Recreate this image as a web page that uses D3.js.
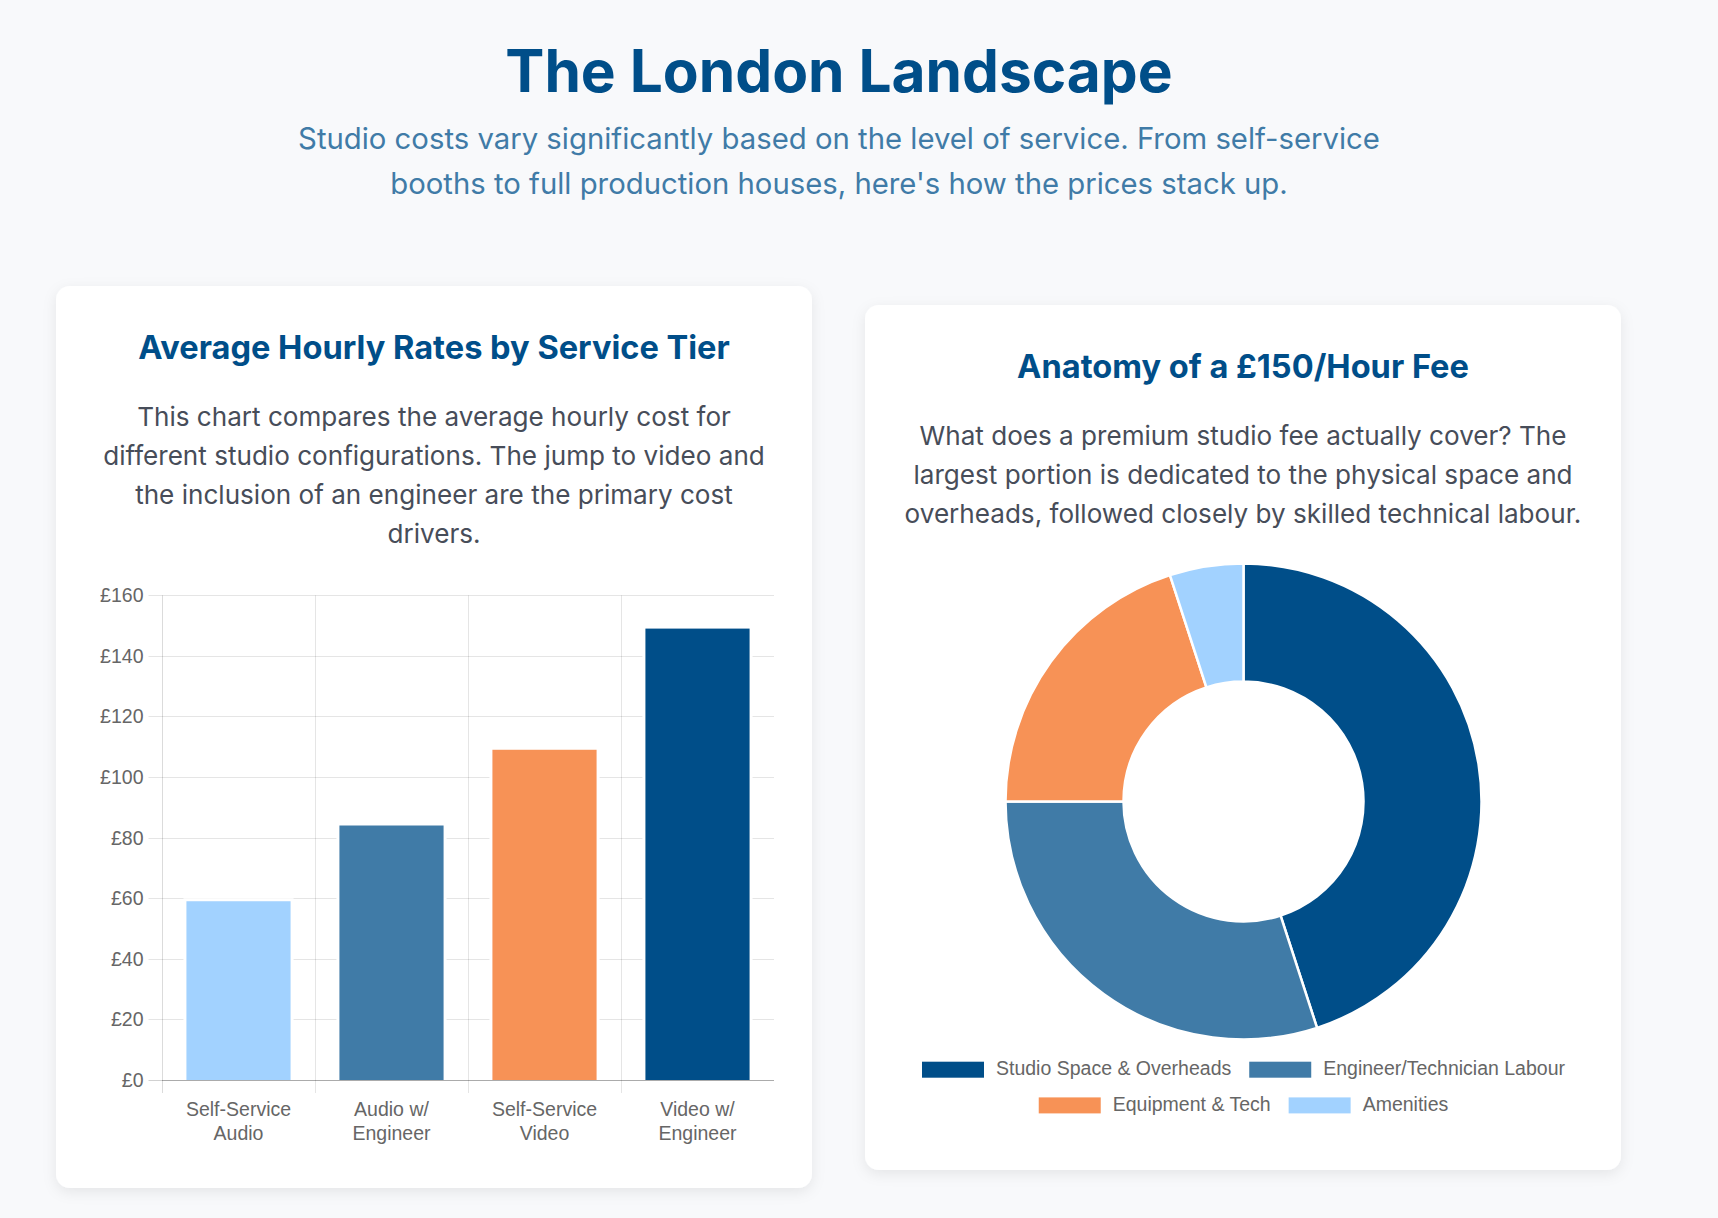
<!DOCTYPE html>
<html>
<head>
<meta charset="utf-8">
<script src="https://cdn.jsdelivr.net/npm/d3@7"></script>
<style>
  html, body { margin: 0; padding: 0; background: #f8f9fb; }
  svg { display: block; }
</style>
</head>
<body>
<div id="page"></div>
<script>
// bar chart data
const tierLabels = [["Self-Service", "Audio"], ["Audio w/", "Engineer"], ["Self-Service", "Video"], ["Video w/", "Engineer"]];
const hourlyRates = [60, 85, 110, 150];
const tierColors = ["#a2d2ff", "#407ba7", "#f79256", "#004e89"];
const rateTicks = [0, 20, 40, 60, 80, 100, 120, 140, 160];

// doughnut data
const feeParts = ["Studio Space & Overheads", "Engineer/Technician Labour", "Equipment & Tech", "Amenities"];
const feeShares = [45, 30, 20, 5];
const feeColors = ["#004e89", "#407ba7", "#f79256", "#a2d2ff"];

const headFont = "Inter, 'Noto Sans', sans-serif";
const chartFont = "'Liberation Sans', Arial, Helvetica, sans-serif";

const svg = d3.select("#page").append("svg")
    .attr("width", 1718)
    .attr("height", 1218);

const defs = svg.append("defs");
const shadow = defs.append("filter")
    .attr("id", "shadow")
    .attr("x", "-10%").attr("y", "-10%")
    .attr("width", "120%").attr("height", "120%");
shadow.append("feDropShadow")
    .attr("dx", 0).attr("dy", 4)
    .attr("stdDeviation", 7)
    .attr("flood-color", "#000")
    .attr("flood-opacity", 0.08);

// header
svg.append("text")
    .attr("x", 839).attr("y", 91.7)
    .attr("text-anchor", "middle")
    .attr("font-family", headFont)
    .attr("font-weight", 700)
    .attr("font-size", 58.6)
    .attr("fill", "#004e89")
    .text("The London Landscape");

const subLines = ["Studio costs vary significantly based on the level of service. From self-service",
                  "booths to full production houses, here's how the prices stack up."];
subLines.forEach((t, i) => {
  svg.append("text")
      .attr("x", 839).attr("y", 149 + i * 45)
      .attr("text-anchor", "middle")
      .attr("font-family", headFont)
      .attr("font-size", 29.3)
      .attr("fill", "#407ba7")
      .text(t);
});

function drawCard(x, y, w, h, title, lines) {
  const g = svg.append("g");
  g.append("rect")
      .attr("x", x).attr("y", y)
      .attr("width", w).attr("height", h)
      .attr("rx", 14)
      .attr("fill", "#fff")
      .attr("filter", "url(#shadow)");
  g.append("text")
      .attr("x", x + w / 2).attr("y", y + 73)
      .attr("text-anchor", "middle")
      .attr("font-family", headFont)
      .attr("font-weight", 700)
      .attr("font-size", 32.6)
      .attr("fill", "#004e89")
      .text(title);
  lines.forEach((t, i) => {
    g.append("text")
        .attr("x", x + w / 2).attr("y", y + 140 + i * 39)
        .attr("text-anchor", "middle")
        .attr("font-family", headFont)
        .attr("font-size", 26.1)
        .attr("fill", "#474d59")
        .text(t);
  });
}

drawCard(56, 286, 756, 902, "Average Hourly Rates by Service Tier", [
  "This chart compares the average hourly cost for",
  "different studio configurations. The jump to video and",
  "the inclusion of an engineer are the primary cost",
  "drivers."
]);

drawCard(865, 305, 756, 865, "Anatomy of a \u00a3150/Hour Fee", [
  "What does a premium studio fee actually cover? The",
  "largest portion is dedicated to the physical space and",
  "overheads, followed closely by skilled technical labour."
]);

// ---- bar chart ----
const plot = {left: 162, right: 774, top: 595.3, bottom: 1080};
const grid = "rgba(0,0,0,0.1)";

const xScale = d3.scaleBand()
    .domain(d3.range(hourlyRates.length))
    .range([plot.left, plot.right])
    .padding(0);

const yScale = d3.scaleLinear()
    .domain([0, 160])
    .range([plot.bottom, plot.top]);

const bars = svg.append("g");

// horizontal grid + y labels
bars.selectAll(".hgrid")
  .data(rateTicks)
  .join("line")
    .attr("x1", plot.left - 13.5).attr("x2", plot.right)
    .attr("y1", d => Math.round(yScale(d)) + 0.5)
    .attr("y2", d => Math.round(yScale(d)) + 0.5)
    .attr("stroke", d => d === 0 ? "rgba(0,0,0,0.18)" : grid)
    .attr("stroke-width", 1);

bars.selectAll(".ylab")
  .data(rateTicks)
  .join("text")
    .attr("x", plot.left - 18.5)
    .attr("y", d => yScale(d))
    .attr("dy", "0.36em")
    .attr("text-anchor", "end")
    .attr("font-family", chartFont)
    .attr("font-size", 19.5)
    .attr("fill", "#666")
    .text(d => "\u00a3" + d);

// vertical grid at category edges
bars.selectAll(".vgrid")
  .data(d3.range(hourlyRates.length))
  .join("line")
    .attr("x1", d => Math.round(xScale(d)) + 0.5)
    .attr("x2", d => Math.round(xScale(d)) + 0.5)
    .attr("y1", plot.top).attr("y2", plot.bottom + 13)
    .attr("stroke", d => d === 0 ? "rgba(0,0,0,0.14)" : grid);

// bars: white rim then coloured fill (Chart.js style border)
const barW = xScale.bandwidth() * 0.72;
const rim = 3;
hourlyRates.forEach((v, i) => {
  const bx = xScale(i) + (xScale.bandwidth() - barW) / 2;
  const by = yScale(v);
  bars.append("rect")
      .attr("x", bx).attr("y", by)
      .attr("width", barW).attr("height", plot.bottom - by)
      .attr("fill", "#fff");
  bars.append("rect")
      .attr("x", bx + rim).attr("y", by + rim)
      .attr("width", barW - 2 * rim).attr("height", plot.bottom - by - rim)
      .attr("fill", tierColors[i]);
});

bars.append("line")
    .attr("x1", plot.left).attr("x2", plot.right)
    .attr("y1", plot.bottom + 0.5).attr("y2", plot.bottom + 0.5)
    .attr("stroke", "rgba(0,0,0,0.18)");

tierLabels.forEach((lines, i) => {
  lines.forEach((t, j) => {
    bars.append("text")
        .attr("x", xScale(i) + xScale.bandwidth() / 2)
        .attr("y", 1116 + j * 24)
        .attr("text-anchor", "middle")
        .attr("font-family", chartFont)
        .attr("font-size", 19.5)
        .attr("fill", "#666")
        .text(t);
  });
});

// ---- doughnut ----
const cx = 1243.5, cy = 801.5, outerR = 238, innerR = 120;
const pie = d3.pie().sort(null).value(d => d)(feeShares);
const arc = d3.arc().innerRadius(innerR).outerRadius(outerR);

svg.append("g")
    .attr("transform", "translate(" + cx + "," + cy + ")")
  .selectAll("path")
  .data(pie)
  .join("path")
    .attr("d", arc)
    .attr("fill", (d, i) => feeColors[i])
    .attr("stroke", "#fff")
    .attr("stroke-width", 2.5);

// legend, wrapped into rows like Chart.js
const legend = svg.append("g");
const boxW = 62, boxH = 16, boxGap = 12, itemGap = 18, maxRow = 700;
const measure = legend.append("text")
    .attr("font-family", chartFont)
    .attr("font-size", 19.5);
const items = feeParts.map((name, i) => {
  measure.text(name);
  return {name: name, color: feeColors[i], w: boxW + boxGap + measure.node().getComputedTextLength()};
});
measure.remove();

const rows = [[]];
let rowW = 0;
items.forEach(it => {
  const add = (rows[rows.length - 1].length ? itemGap : 0) + it.w;
  if (rowW + add > maxRow && rows[rows.length - 1].length) {
    rows.push([it]);
    rowW = it.w;
  } else {
    rows[rows.length - 1].push(it);
    rowW += add;
  }
});

rows.forEach((row, r) => {
  const total = d3.sum(row, d => d.w) + itemGap * (row.length - 1);
  let lx = cx - total / 2;
  const base = 1075 + r * 35.7;
  row.forEach(it => {
    legend.append("rect")
        .attr("x", lx).attr("y", base - 13.3)
        .attr("width", boxW).attr("height", boxH)
        .attr("fill", it.color);
    legend.append("text")
        .attr("x", lx + boxW + boxGap).attr("y", base)
        .attr("font-family", chartFont)
        .attr("font-size", 19.5)
        .attr("fill", "#666")
        .text(it.name);
    lx += it.w + itemGap;
  });
});
</script>
</body>
</html>
